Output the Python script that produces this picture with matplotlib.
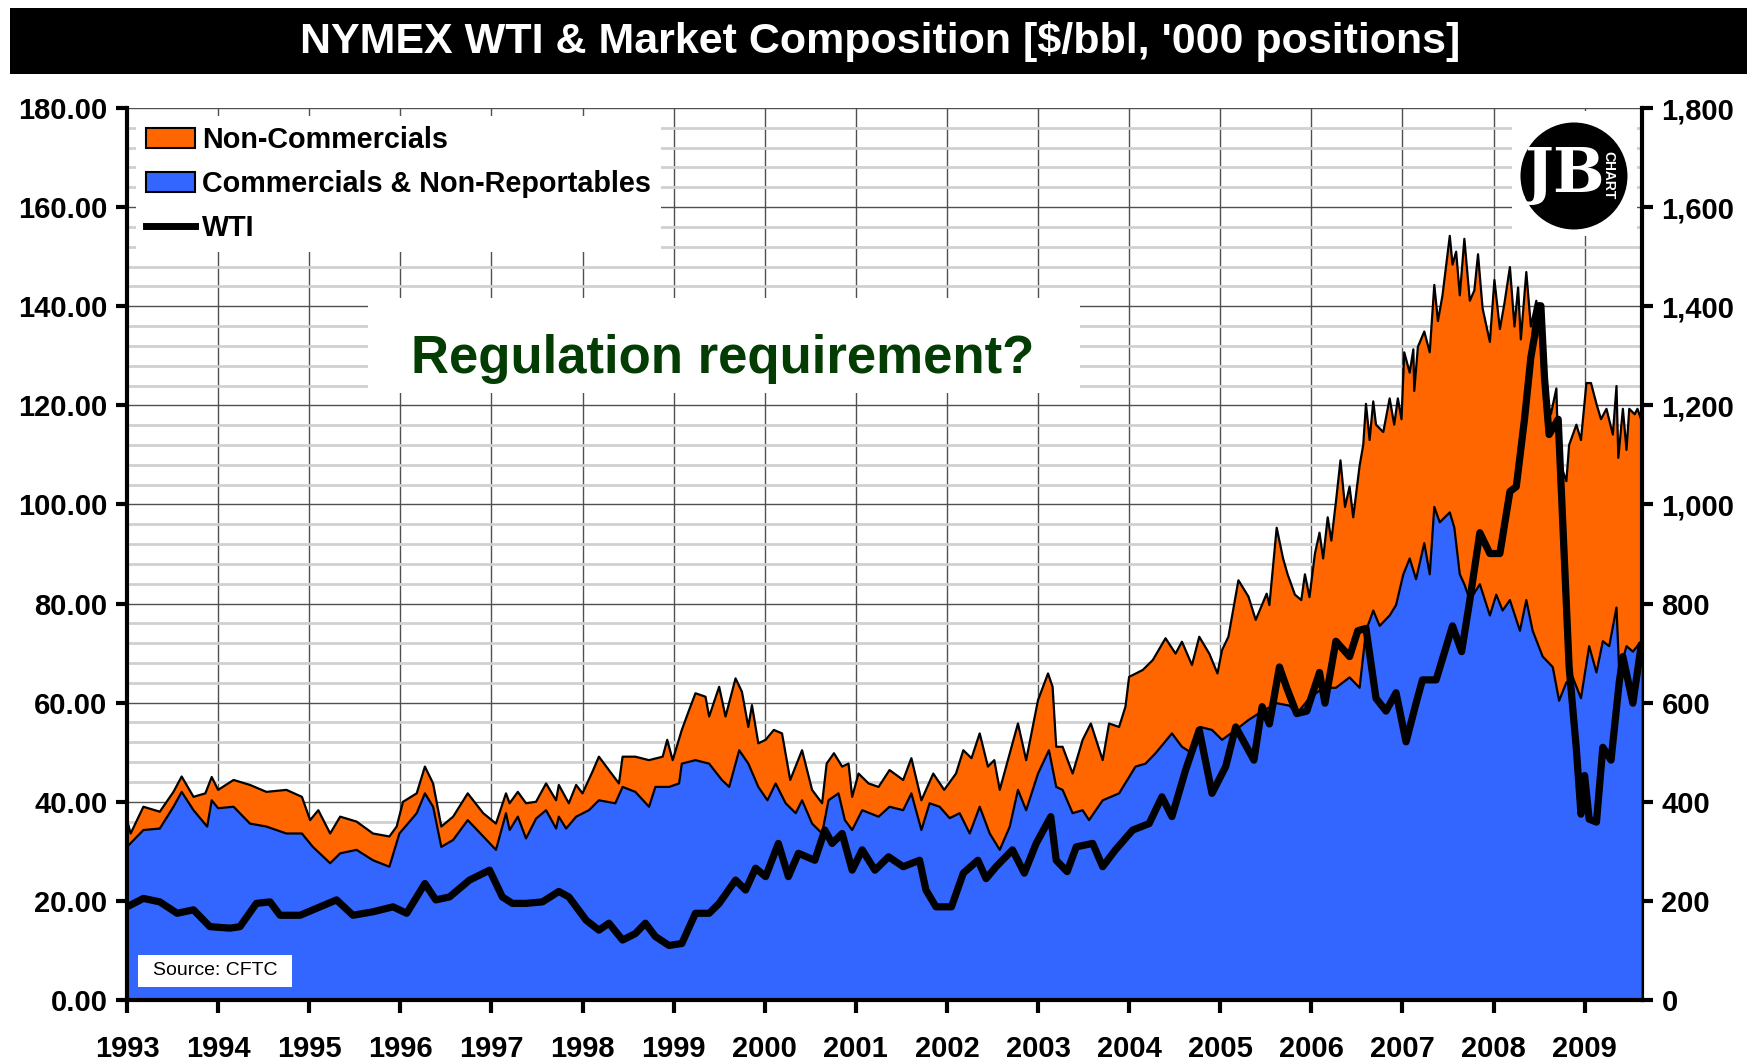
import matplotlib
matplotlib.use("Agg")
import matplotlib.pyplot as plt
from matplotlib.patches import Rectangle, Ellipse, Patch
from matplotlib.lines import Line2D
from matplotlib.ticker import MultipleLocator, FuncFormatter

plt.rcParams['font.family'] = ['Liberation Sans', 'DejaVu Sans']

# ---- data ----
# total open interest = top of the orange area, '000 positions
total_x = [1993.00, 1993.04, 1993.18, 1993.36, 1993.51, 1993.60, 1993.73, 1993.86, 1993.93,
           1994.00, 1994.17, 1994.35, 1994.53, 1994.75, 1994.92, 1995.01, 1995.10, 1995.23,
           1995.34, 1995.52, 1995.70, 1995.88, 1995.96, 1996.03, 1996.18, 1996.27, 1996.36,
           1996.45, 1996.58, 1996.74, 1996.91, 1997.05, 1997.16, 1997.20, 1997.29, 1997.38,
           1997.49, 1997.60, 1997.71, 1997.74, 1997.85, 1997.93, 1998.00, 1998.11, 1998.18,
           1998.29, 1998.40, 1998.44, 1998.58, 1998.73, 1998.88, 1998.93, 1998.99, 1999.09,
           1999.17, 1999.24, 1999.35, 1999.39, 1999.50, 1999.57, 1999.68, 1999.75, 1999.82,
           1999.86, 1999.93, 2000.01, 2000.10, 2000.19, 2000.28, 2000.41, 2000.52, 2000.63,
           2000.68, 2000.76, 2000.85, 2000.92, 2000.96, 2001.03, 2001.14, 2001.25,
           2001.37, 2001.52, 2001.61, 2001.72, 2001.85, 2001.97, 2002.10, 2002.18, 2002.27,
           2002.36, 2002.45, 2002.52, 2002.58, 2002.69, 2002.78, 2002.87, 2003.00, 2003.11,
           2003.16, 2003.20, 2003.27, 2003.38, 2003.49, 2003.58, 2003.71, 2003.78, 2003.89,
           2003.96, 2004.00, 2004.15, 2004.26, 2004.40, 2004.51, 2004.58, 2004.69, 2004.77,
           2004.88, 2004.97, 2005.02, 2005.09, 2005.20, 2005.31, 2005.39, 2005.51,
           2005.54, 2005.62, 2005.69, 2005.74, 2005.82, 2005.89, 2005.93, 2005.98, 2006.04,
           2006.09, 2006.13, 2006.18, 2006.22, 2006.27, 2006.32, 2006.37, 2006.42, 2006.46,
           2006.53, 2006.57, 2006.60, 2006.64, 2006.68, 2006.71, 2006.79, 2006.86, 2006.91,
           2006.95, 2006.99, 2007.02, 2007.08, 2007.12, 2007.13, 2007.17, 2007.24, 2007.30,
           2007.35, 2007.39, 2007.44, 2007.52, 2007.55, 2007.59, 2007.63, 2007.68, 2007.74,
           2007.79, 2007.83, 2007.88, 2007.96, 2008.01, 2008.07, 2008.12, 2008.18, 2008.23,
           2008.27, 2008.30, 2008.36, 2008.41, 2008.47, 2008.52, 2008.58, 2008.63, 2008.69,
           2008.72, 2008.76, 2008.80, 2008.83, 2008.91, 2008.96, 2009.02, 2009.07, 2009.13,
           2009.18, 2009.24, 2009.31, 2009.35, 2009.37, 2009.42, 2009.46, 2009.49, 2009.55,
           2009.58, 2009.62]
total_pos = [363, 336, 390, 380, 420, 451, 410, 417, 450,
             424, 444, 434, 420, 424, 410, 363, 383, 336,
             370, 360, 336, 330, 350, 400, 417, 471, 437,
             350, 370, 417, 377, 356, 417, 397, 420, 397,
             400, 437, 403, 434, 397, 434, 417, 461, 491,
             464, 437, 491, 491, 484, 491, 525, 484, 545,
             585, 619, 612, 572, 632, 572, 649, 622, 551,
             595, 518, 525, 545, 538, 444, 504, 424, 397,
             477, 498, 471, 477, 410, 457, 437, 430,
             464, 444, 488, 403, 457, 424, 457, 504, 488,
             538, 471, 484, 424, 498, 558, 484, 605, 659,
             632, 511, 511, 457, 525, 558, 484, 558, 551,
             592, 652, 666, 686, 730, 699, 723, 676, 733,
             699, 659, 706, 733, 847, 814, 767, 820,
             797, 953, 891, 859, 818, 807, 859, 813, 901,
             943, 891, 974, 927, 1005, 1089, 995, 1036, 974,
             1078, 1120, 1203, 1130, 1208, 1161, 1146, 1214, 1161,
             1214, 1172, 1307, 1266, 1313, 1229, 1318, 1349, 1307,
             1443, 1370, 1422, 1542, 1484, 1510, 1422, 1536, 1411,
             1432, 1505, 1396, 1328, 1453, 1354, 1406, 1479, 1359,
             1438, 1333, 1469, 1359, 1411, 1318, 1214, 1182, 1234,
             1036, 1068, 1047, 1120, 1161, 1130, 1245, 1245, 1203,
             1172, 1193, 1141, 1239, 1094, 1193, 1110, 1193, 1182,
             1193, 1172]

# commercials & non-reportables = top of the blue area, '000 positions
comm_x = [1993.00, 1993.18, 1993.36, 1993.51, 1993.60, 1993.73, 1993.88, 1993.93, 1994.00,
          1994.17, 1994.35, 1994.53, 1994.75, 1994.92, 1995.04, 1995.23, 1995.34, 1995.52,
          1995.70, 1995.88, 1995.99, 1996.18, 1996.27, 1996.36, 1996.45, 1996.58, 1996.74,
          1996.91, 1997.05, 1997.16, 1997.20, 1997.29, 1997.38, 1997.49, 1997.60, 1997.71,
          1997.74, 1997.82, 1997.93, 1998.07, 1998.18, 1998.36, 1998.44, 1998.58, 1998.73,
          1998.80, 1998.95, 1999.06, 1999.09, 1999.24, 1999.39, 1999.53, 1999.61, 1999.72,
          1999.82, 1999.93, 2000.03, 2000.12, 2000.23, 2000.34, 2000.41, 2000.52, 2000.63,
          2000.70, 2000.81, 2000.88, 2000.96, 2001.07, 2001.25,
          2001.37, 2001.52, 2001.61, 2001.72, 2001.81, 2001.92, 2002.03, 2002.14, 2002.25,
          2002.36, 2002.47, 2002.58, 2002.69, 2002.78, 2002.87, 2003.00, 2003.12, 2003.20,
          2003.27, 2003.38, 2003.49, 2003.56, 2003.71, 2003.89, 2004.07, 2004.18, 2004.29,
          2004.47, 2004.58, 2004.69, 2004.78, 2004.91, 2005.02, 2005.17, 2005.31, 2005.42,
          2005.62, 2005.76, 2005.84, 2005.98, 2006.13, 2006.27, 2006.42, 2006.53, 2006.60,
          2006.68, 2006.75, 2006.86, 2006.93, 2007.01, 2007.08, 2007.15, 2007.24, 2007.30,
          2007.35, 2007.41, 2007.52, 2007.57, 2007.63, 2007.68, 2007.74, 2007.85, 2007.96,
          2008.03, 2008.10, 2008.18, 2008.29, 2008.36, 2008.43, 2008.54, 2008.65, 2008.72,
          2008.80, 2008.87, 2008.96, 2009.05, 2009.13, 2009.20, 2009.27, 2009.35, 2009.38,
          2009.46, 2009.53, 2009.62]
comm_pos = [309, 343, 346, 390, 420, 383, 350, 403, 387,
            390, 356, 350, 336, 336, 309, 276, 296, 303,
            282, 269, 336, 377, 417, 390, 309, 323, 363,
            330, 303, 377, 343, 370, 326, 366, 383, 346,
            370, 346, 370, 383, 403, 397, 430, 420, 390,
            430, 430, 437, 477, 484, 477, 444, 430, 504,
            477, 430, 403, 437, 397, 377, 403, 356, 336,
            403, 417, 363, 343, 383, 370,
            390, 383, 417, 343, 397, 390, 367, 377, 336,
            390, 336, 303, 350, 424, 383, 457, 504, 430,
            424, 377, 383, 363, 403, 417, 471, 477, 498,
            538, 511, 498, 551, 545, 525, 545, 565, 578,
            599, 594, 578, 609, 630, 630, 651, 630, 745,
            786, 755, 776, 797, 859, 891, 849, 922, 859,
            995, 964, 984, 953, 859, 839, 807, 839, 776,
            818, 786, 807, 745, 807, 745, 693, 672, 604,
            641, 651, 609, 714, 661, 724, 714, 792, 661,
            714, 703, 724]

# NYMEX WTI, $/bbl
wti_x = [1993.00, 1993.18, 1993.36, 1993.55, 1993.73, 1993.91, 1994.13, 1994.24, 1994.42,
         1994.57, 1994.68, 1994.90, 1995.12, 1995.30, 1995.48, 1995.70, 1995.92, 1996.07,
         1996.27, 1996.39, 1996.54, 1996.76, 1996.98, 1997.12, 1997.23, 1997.38, 1997.56,
         1997.74, 1997.85, 1998.04, 1998.18, 1998.29, 1998.44, 1998.58, 1998.69, 1998.80,
         1998.95, 1999.09, 1999.24, 1999.39, 1999.50, 1999.68, 1999.79, 1999.90, 2000.01,
         2000.15, 2000.26, 2000.37, 2000.55, 2000.66, 2000.74, 2000.85, 2000.96, 2001.07,
         2001.21, 2001.36, 2001.52, 2001.70, 2001.77, 2001.88, 2002.05, 2002.18, 2002.34,
         2002.43, 2002.54, 2002.72, 2002.85, 2002.98, 2003.14, 2003.20, 2003.32, 2003.42,
         2003.60, 2003.71, 2003.85, 2004.04, 2004.22, 2004.36, 2004.47, 2004.62, 2004.77,
         2004.91, 2005.06, 2005.17, 2005.37, 2005.46, 2005.54, 2005.65, 2005.73, 2005.84,
         2005.95, 2006.09, 2006.15, 2006.27, 2006.42, 2006.51, 2006.60, 2006.71, 2006.82,
         2006.93, 2007.04, 2007.15, 2007.22, 2007.37, 2007.55, 2007.65, 2007.74, 2007.85,
         2007.96, 2008.07, 2008.18, 2008.25, 2008.34, 2008.41, 2008.45, 2008.49, 2008.52,
         2008.56, 2008.61, 2008.71, 2008.76, 2008.83, 2008.91, 2008.96, 2009.00, 2009.05,
         2009.13, 2009.20, 2009.29, 2009.38, 2009.42, 2009.53, 2009.62]
wti = [18.8, 20.5, 19.8, 17.5, 18.2, 14.8, 14.5, 14.8, 19.5,
       19.8, 17.1, 17.1, 18.8, 20.2, 17.1, 17.8, 18.8, 17.5,
       23.5, 20.2, 20.8, 24.2, 26.2, 20.8, 19.5, 19.5, 19.8,
       21.9, 20.8, 16.1, 14.1, 15.5, 12.1, 13.4, 15.5, 12.8,
       11.0, 11.4, 17.5, 17.5, 19.5, 24.2, 22.2, 26.6, 24.9,
       31.6, 24.9, 29.6, 28.2, 34.3, 31.6, 33.6, 26.2, 30.3,
       26.2, 28.9, 26.9, 28.2, 22.2, 18.8, 18.8, 25.6, 28.2,
       24.5, 26.9, 30.3, 25.6, 31.6, 37.0, 28.2, 25.9, 30.9,
       31.6, 26.9, 30.3, 34.3, 35.6, 41.0, 37.0, 46.4, 54.5,
       41.7, 47.1, 55.1, 48.4, 59.2, 55.7, 67.2, 63.0, 57.8,
       58.3, 66.1, 59.9, 72.4, 69.3, 74.5, 75.0, 60.9, 58.3,
       62.0, 52.1, 59.9, 64.6, 64.6, 75.5, 70.3, 80.7, 94.3,
       90.1, 90.1, 102.6, 103.6, 117.2, 129.7, 133.9, 140.1, 140.1,
       125.5, 114.1, 117.2, 96.4, 67.2, 50.5, 37.5, 45.3, 36.5,
       35.9, 51.0, 48.4, 64.1, 69.3, 59.9, 71.4]

years = list(range(1993, 2010))

ORANGE = '#FF6600'
BLUE = '#3366FF'

fig = plt.figure(figsize=(17.47, 10.60), dpi=100)
fig.patch.set_facecolor('white')

# title bar
fig.add_artist(Rectangle((0.006, 0.930), 0.994, 0.0625, transform=fig.transFigure,
                         facecolor='black', edgecolor='none'))
fig.text(0.504, 0.961, "NYMEX WTI & Market Composition [$/bbl, '000 positions]",
         color='white', fontsize=31, fontweight='bold', ha='center', va='center')

ax = fig.add_axes([0.0727, 0.0566, 0.8672, 0.8415])
ax2 = ax.twinx()

# positions axis sits behind, carries grid and areas
ax.set_zorder(2)
ax.patch.set_visible(False)
ax2.set_zorder(1)
ax2.patch.set_visible(True)
ax2.patch.set_facecolor('white')
ax2.set_axisbelow(True)

ax2.fill_between(total_x, 0, total_pos, color=ORANGE, lw=0, zorder=2)
ax2.plot(total_x, total_pos, color='black', lw=1.6, zorder=3)
ax2.fill_between(comm_x, 0, comm_pos, color=BLUE, lw=0, zorder=4)
ax2.plot(comm_x, comm_pos, color='black', lw=1.6, zorder=5)

ax.plot(wti_x, wti, color='black', lw=5.2, solid_joinstyle='round', zorder=5)

ax.set_xlim(1993.0, 2009.63)
ax.set_ylim(0, 180)
ax2.set_ylim(0, 1800)

# grid on the back axes
ax2.xaxis.set_visible(True)
ax2.set_xticks(years)
ax2.tick_params(axis='x', which='both', bottom=False, top=False,
                labelbottom=False, labeltop=False)
ax2.yaxis.set_major_locator(MultipleLocator(200))
ax2.yaxis.set_minor_locator(MultipleLocator(40))
ax2.grid(which='minor', axis='y', color='#d0d0d0', lw=2.0)
ax2.grid(which='major', axis='y', color='#505050', lw=1.0)
ax2.grid(which='major', axis='x', color='#505050', lw=1.0)

# ticks and labels
ax.set_xticks(years)
ax.set_xticklabels([str(y) for y in years])
ax.yaxis.set_major_locator(MultipleLocator(20))
ax.yaxis.set_major_formatter(FuncFormatter(lambda v, p: '%.2f' % v))
ax2.yaxis.set_major_formatter(FuncFormatter(lambda v, p: '{:,.0f}'.format(v)))

ax.tick_params(axis='x', direction='out', length=9, width=3, pad=16,
               labelsize=21, top=False)
ax.tick_params(axis='y', direction='out', length=8, width=3, pad=6, labelsize=21)
ax2.tick_params(axis='y', which='major', direction='out', length=8, width=3, pad=6,
                labelsize=21)
ax2.tick_params(axis='y', which='minor', right=False)
for lab in ax.get_xticklabels() + ax.get_yticklabels() + ax2.get_yticklabels():
    lab.set_fontweight('bold')

for s in ['left', 'bottom']:
    ax.spines[s].set_linewidth(3)
ax.spines['right'].set_visible(False)
ax.spines['top'].set_visible(False)
ax2.spines['right'].set_linewidth(3)
for s in ['left', 'bottom', 'top']:
    ax2.spines[s].set_visible(False)

# legend
handles = [Patch(facecolor=ORANGE, edgecolor='black', lw=1.5),
           Patch(facecolor=BLUE, edgecolor='black', lw=1.5),
           Line2D([], [], color='black', lw=5)]
labels = ['Non-Commercials', 'Commercials & Non-Reportables', 'WTI']
leg = ax.legend(handles, labels, loc='upper left', bbox_to_anchor=(0.006, 0.991),
                borderaxespad=0, frameon=True, fancybox=False, framealpha=1,
                edgecolor='none', facecolor='white', handlelength=1.7,
                handleheight=0.7, handletextpad=0.25, labelspacing=0.55,
                borderpad=0.35, prop={'weight': 'bold', 'size': 20.7})

# annotation box
ax.add_patch(Rectangle((0.159, 0.68), 0.470, 0.107, transform=ax.transAxes,
                       facecolor='white', edgecolor='none', zorder=6))
ax.text(0.393, 0.719, 'Regulation requirement?', transform=ax.transAxes,
        fontsize=38, fontweight='bold', color='#033d03', ha='center', va='center',
        zorder=7)

# source box
ax.add_patch(Rectangle((0.0073, 0.0146), 0.1017, 0.036, transform=ax.transAxes,
                       facecolor='white', edgecolor='none', zorder=6))
ax.text(0.058, 0.0326, 'Source: CFTC', transform=ax.transAxes, fontsize=14,
        ha='center', va='center', zorder=7)

# logo
ax.add_patch(Rectangle((0.914, 0.857), 0.083, 0.14, transform=ax.transAxes,
                       facecolor='white', edgecolor='none', zorder=6))
ax.add_patch(Ellipse((0.9551, 0.9238), 107 / 1515, 107 / 892, transform=ax.transAxes,
                     facecolor='black', edgecolor='none', zorder=7))
ax.text(0.949, 0.925, 'JB', transform=ax.transAxes, fontsize=44, color='white',
        family='DejaVu Serif', fontweight='bold', ha='center', va='center', zorder=8)
ax.text(0.978, 0.925, 'CHART', transform=ax.transAxes, fontsize=10, color='white',
        fontweight='bold', rotation=-90, ha='center', va='center', zorder=8)

fig.savefig('out.png', dpi=100)
